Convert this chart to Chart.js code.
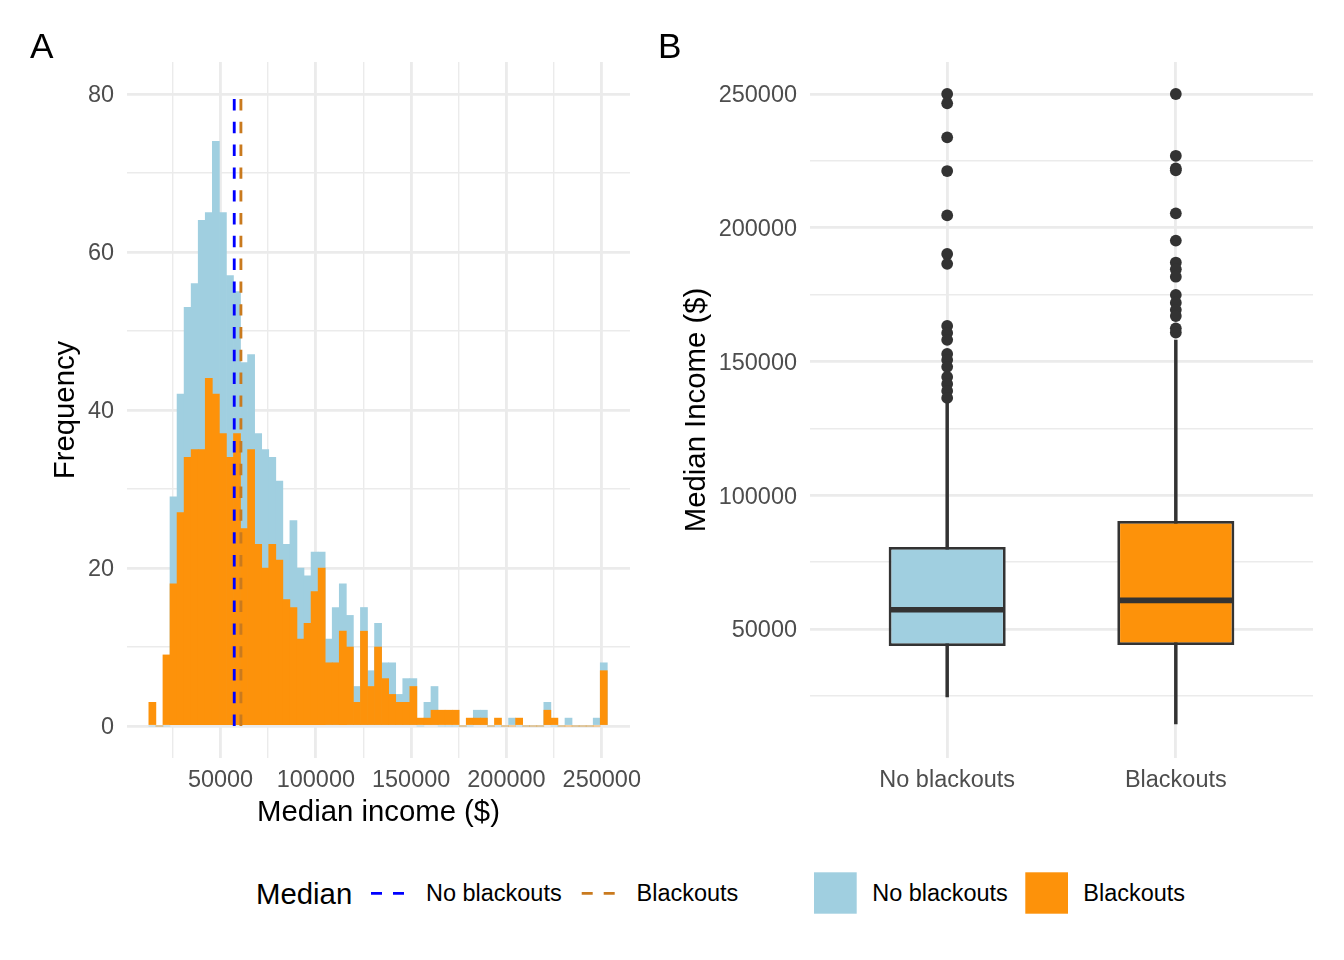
<!DOCTYPE html>
<html>
<head>
<meta charset="utf-8">
<script src="https://cdn.jsdelivr.net/npm/chart.js@4.4.1/dist/chart.umd.min.js"></script>
<style>
  html, body { margin: 0; padding: 0; background: #ffffff; }
  #fig { position: relative; width: 1344px; height: 960px; overflow: hidden;
         font-family: 'Liberation Sans', Arial, Helvetica, sans-serif; color: #000; }
  canvas { position: absolute; top: 0; }
  .t { position: absolute; line-height: 1; white-space: nowrap; }
</style>
</head>
<body>
<div id="fig">
  <canvas id="histA" width="650" height="850" style="left:0px;width:650px;height:850px"></canvas>
  <canvas id="boxB" width="684" height="850" style="left:660px;width:684px;height:850px"></canvas>

  <div class="t" style="left:30px;top:28px;font-size:35.2px">A</div>
  <div class="t" style="left:658px;top:28px;font-size:35.2px">B</div>

  <div class="t" style="left:256px;top:879px;font-size:29.33px">Median</div>
  <div class="t" style="left:426px;top:882px;font-size:23.47px">No blackouts</div>
  <div class="t" style="left:636.6px;top:882px;font-size:23.47px">Blackouts</div>
  <div class="t" style="left:872.2px;top:882px;font-size:23.47px">No blackouts</div>
  <div class="t" style="left:1083.3px;top:882px;font-size:23.47px">Blackouts</div>
  <svg id="legendKeys" style="position:absolute;left:0;top:860px" width="1344" height="70"></svg>
</div>

<script>
// ---------------- DATA ----------------
// Panel A: histogram bins (bin centres, $) and counts per group
const binCenters = [14250, 17950, 21650, 25350, 29050, 32750, 36450, 40150, 43850, 47550,
  51250, 54950, 58650, 62350, 66050, 69750, 73450, 77150, 80850, 84550,
  88250, 91950, 95650, 99350, 103050, 106750, 110450, 114150, 117850, 121550,
  125250, 128950, 132650, 136350, 140050, 143750, 147450, 151150, 154850, 158550,
  162250, 165950, 169650, 173350, 177050, 180750, 184450, 188150, 191850, 195550,
  199250, 202950, 206650, 210350, 214050, 217750, 221450, 225150, 228850, 232550,
  236250, 239950, 243650, 247350, 251050];
const noBlackoutsCounts = [0, 0, 0, 29, 42, 53, 56, 64, 65, 74,
  65, 57, 55, 46, 47, 37, 35, 34, 31, 23,
  26, 20, 19, 22, 22, 11, 15, 18, 14, 5,
  15, 7, 13, 8, 8, 4, 6, 6, 0, 3,
  5, 0, 0, 0, 0, 0, 2, 2, 0, 0,
  0, 1, 0, 0, 0, 0, 3, 0, 0, 1,
  0, 0, 0, 1, 8];
const blackoutsCounts = [3, 0, 9, 18, 27, 34, 35, 35, 44, 42,
  37, 34, 37, 25, 35, 23, 20, 23, 21, 16,
  15, 11, 13, 17, 20, 8, 8, 12, 10, 3,
  12, 5, 10, 6, 4, 3, 3, 5, 1, 1,
  2, 2, 2, 2, 0, 1, 1, 1, 0, 1,
  0, 0, 1, 0, 0, 0, 2, 1, 0, 0,
  0, 0, 0, 0, 7];
const groups = ['No blackouts', 'Blackouts'];
const medianIncome = [57200, 60700];          // medians per group ($)
const medianLineSpan = [0, 80];               // frequency extent of median lines
const histXTicks = [25000, 50000, 75000, 100000, 125000, 150000, 175000, 200000, 225000, 250000];
const histXLabelled = [50000, 100000, 150000, 200000, 250000];
const freqTicks = [0, 10, 20, 30, 40, 50, 60, 70, 80];
const freqLabelled = [0, 20, 40, 60, 80];

// Panel B: box plot statistics
const boxQ1 = [43600, 44000];
const boxMedian = medianIncome;
const boxQ3 = [80700, 90400];
const whiskerLow = [24600, 14500];
const whiskerHigh = [134500, 158000];
const outliersNoBlackouts = [250001, 246500, 233800, 221200, 204600, 190200, 186500,
  163300, 160700, 158100, 152800, 150600, 148000, 144200, 141600, 139000, 136400];
const outliersBlackouts = [250001, 226900, 222200, 221500, 205400, 195200, 187000, 184500,
  181700, 174900, 172000, 169300, 167000, 162400, 160800];
const incomeTicks = [25000, 50000, 75000, 100000, 125000, 150000, 175000, 200000, 225000, 250000];
const incomeLabelled = [50000, 100000, 150000, 200000, 250000];

// ---------------- STYLE ----------------
const LIGHTBLUE = '#A0CFE0';
const ORANGE = '#FD920A';
const DASH_BLUE = '#0000FF';
const DASH_ORANGE = '#C97A1E';
const GRID = '#EBEBEB';
const TICK = '#4D4D4D';
const INK = '#333333';
const MAJOR = 2.84, MINOR = 1.42;

Chart.defaults.font.family = "'Liberation Sans', Arial, Helvetica, sans-serif";
Chart.defaults.animation = false;

const tickFont = { size: 23.47, lineHeight: 1.2 };
const titleFont = { size: 29.33, lineHeight: 1.2 };

// ---------------- PANEL A ----------------
new Chart(document.getElementById('histA'), {
  type: 'bar',
  data: {
    datasets: [
      { type: 'line', label: 'Median No blackouts',
        data: medianLineSpan.map(y => ({ x: medianIncome[0], y })),
        borderColor: DASH_BLUE, borderWidth: MAJOR, borderDash: [11.4, 11.4],
        pointRadius: 0, fill: false, order: 0 },
      { type: 'line', label: 'Median Blackouts',
        data: medianLineSpan.map(y => ({ x: medianIncome[1], y })),
        borderColor: DASH_ORANGE, borderWidth: MAJOR, borderDash: [11.4, 11.4],
        pointRadius: 0, fill: false, order: 0 },
      { label: 'Blackouts',
        data: binCenters.map((x, i) => ({ x, y: blackoutsCounts[i] })),
        backgroundColor: ORANGE, borderWidth: 0, grouped: false,
        barPercentage: 1, categoryPercentage: 1, order: 1 },
      { label: 'No blackouts',
        data: binCenters.map((x, i) => ({ x, y: noBlackoutsCounts[i] })),
        backgroundColor: LIGHTBLUE, borderWidth: 0, grouped: false,
        barPercentage: 1, categoryPercentage: 1, order: 2 }
    ]
  },
  options: {
    responsive: false, animation: false, events: [],
    layout: { padding: { left: 0, top: 62, right: 19, bottom: 0 } },
    plugins: { legend: { display: false }, tooltip: { enabled: false } },
    scales: {
      x: {
        type: 'linear', min: 943, max: 264817, offset: false,
        afterBuildTicks: s => { s.ticks = histXTicks.map(v => ({ value: v })); },
        afterFit: s => { s.height = 92; },
        ticks: { autoSkip: false, minRotation: 0, maxRotation: 0, padding: 8, color: TICK, font: tickFont,
                 callback: v => histXLabelled.includes(v) ? String(v) : '' },
        grid: { offset: false, color: GRID, drawTicks: false,
                lineWidth: c => (c.tick && histXLabelled.includes(c.tick.value)) ? MAJOR : MINOR },
        border: { display: false },
        title: { display: true, text: 'Median income ($)', color: '#000', font: titleFont,
                 padding: { top: 0, bottom: 19 } }
      },
      y: {
        type: 'linear', min: -4.05, max: 84.05,
        afterBuildTicks: s => { s.ticks = freqTicks.map(v => ({ value: v })); },
        afterFit: s => { s.width = 127; },
        ticks: { autoSkip: false, padding: 13, labelOffset: 2, color: TICK, font: tickFont,
                 callback: v => freqLabelled.includes(v) ? String(v) : '' },
        grid: { color: GRID, drawTicks: false,
                lineWidth: c => (c.tick && freqLabelled.includes(c.tick.value)) ? MAJOR : MINOR },
        border: { display: false },
        title: { display: true, text: 'Frequency', color: '#000', font: titleFont,
                 padding: { top: 48.6, bottom: 0 } }
      }
    }
  }
});

// ---------------- PANEL B ----------------
const medianPlugin = {
  id: 'boxMedian',
  afterDatasetsDraw(chart) {
    const meta = chart.getDatasetMeta(1);
    const ys = chart.scales.y;
    const ctx = chart.ctx;
    ctx.save();
    ctx.strokeStyle = INK;
    ctx.lineWidth = MAJOR * 2;
    ctx.lineCap = 'butt';
    meta.data.forEach((el, i) => {
      const py = ys.getPixelForValue(boxMedian[i]);
      const half = el.width / 2 - MINOR;
      ctx.beginPath();
      ctx.moveTo(el.x - half, py);
      ctx.lineTo(el.x + half, py);
      ctx.stroke();
    });
    ctx.restore();
  }
};

new Chart(document.getElementById('boxB'), {
  type: 'bar',
  data: {
    datasets: [
      { type: 'scatter', label: 'Outliers',
        data: outliersNoBlackouts.map(v => ({ x: 1, y: v }))
              .concat(outliersBlackouts.map(v => ({ x: 2, y: v }))),
        pointRadius: 5.9, pointBackgroundColor: INK, pointBorderWidth: 0, order: 0 },
      { label: 'Box',
        data: groups.map((g, i) => ({ x: i + 1, y: [boxQ1[i], boxQ3[i]] })),
        backgroundColor: [LIGHTBLUE, ORANGE], borderColor: INK, borderWidth: MAJOR,
        borderSkipped: false, grouped: false, barPercentage: 0.512, categoryPercentage: 1, order: 1 },
      { label: 'Whisker',
        data: groups.map((g, i) => ({ x: i + 1, y: [whiskerLow[i], whiskerHigh[i]] })),
        backgroundColor: INK, borderWidth: 0, barThickness: MAJOR, grouped: false, order: 2 }
    ]
  },
  plugins: [medianPlugin],
  options: {
    responsive: false, animation: false, events: [],
    layout: { padding: { left: 0, top: 62, right: 31, bottom: 0 } },
    plugins: { legend: { display: false }, tooltip: { enabled: false } },
    scales: {
      x: {
        type: 'linear', min: 0.4, max: 2.6, offset: false,
        afterBuildTicks: s => { s.ticks = groups.map((g, i) => ({ value: i + 1 })); },
        afterFit: s => { s.height = 92; },
        ticks: { autoSkip: false, minRotation: 0, maxRotation: 0, padding: 8, color: TICK, font: tickFont,
                 callback: v => groups[Math.round(v) - 1] || '' },
        grid: { offset: false, color: GRID, drawTicks: false, lineWidth: MAJOR },
        border: { display: false }
      },
      y: {
        type: 'linear', min: 1776, max: 261963,
        afterBuildTicks: s => { s.ticks = incomeTicks.map(v => ({ value: v })); },
        afterFit: s => { s.width = 150; },
        ticks: { autoSkip: false, padding: 13, labelOffset: 2, color: TICK, font: tickFont,
                 callback: v => incomeLabelled.includes(v) ? String(v) : '' },
        grid: { color: GRID, drawTicks: false,
                lineWidth: c => (c.tick && incomeLabelled.includes(c.tick.value)) ? MAJOR : MINOR },
        border: { display: false },
        title: { display: true, text: 'Median Income ($)', color: '#000', font: titleFont,
                 padding: { top: 19.6, bottom: 0 } }
      }
    }
  }
});

// ---------------- LEGEND KEYS ----------------
(function () {
  const svg = document.getElementById('legendKeys');
  const NS = 'http://www.w3.org/2000/svg';
  function line(x1, x2, y, color) {
    const l = document.createElementNS(NS, 'line');
    l.setAttribute('x1', x1); l.setAttribute('x2', x2);
    l.setAttribute('y1', y); l.setAttribute('y2', y);
    l.setAttribute('stroke', color); l.setAttribute('stroke-width', MAJOR);
    l.setAttribute('stroke-dasharray', '11 11');
    svg.appendChild(l);
  }
  function rect(x, y, w, h, color) {
    const r = document.createElementNS(NS, 'rect');
    r.setAttribute('x', x); r.setAttribute('y', y);
    r.setAttribute('width', w); r.setAttribute('height', h);
    r.setAttribute('fill', color);
    svg.appendChild(r);
  }
  line(371, 404.3, 33.3, DASH_BLUE);
  line(581.7, 615.7, 33.3, DASH_ORANGE);
  rect(814, 12.3, 42.7, 41.4, LIGHTBLUE);
  rect(1025.3, 12.3, 42.7, 41.4, ORANGE);
})();
</script>
</body>
</html>
